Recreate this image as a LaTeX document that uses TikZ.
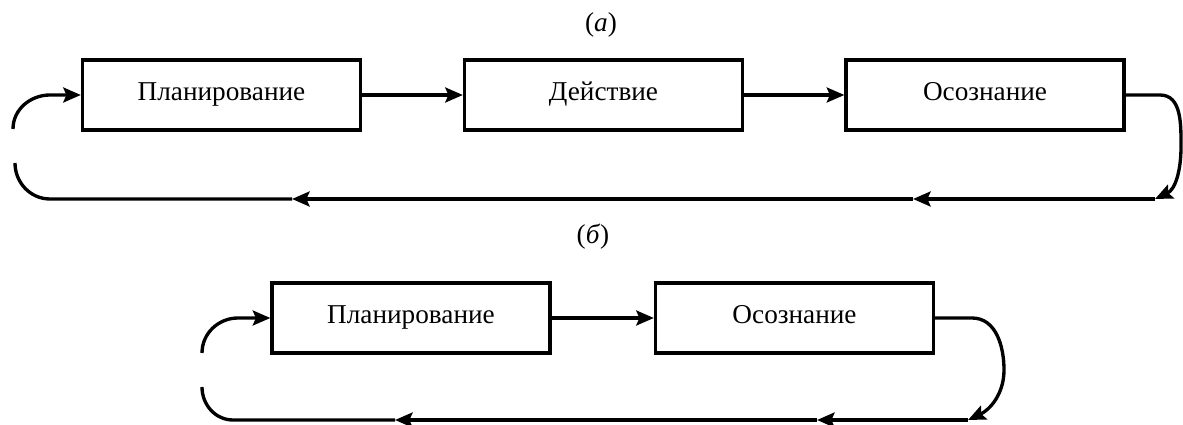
\documentclass[tikz,border=0pt]{standalone}
\usepackage{fontspec}
\setmainfont{Liberation Serif}
\usetikzlibrary{arrows.meta}

\begin{document}
\begin{tikzpicture}[x = 0.02cm, y = 0.02cm, font = \fontsize{15.5}{18}\selectfont]
	\tikzstyle{stageStyle}=[shape = rectangle, minimum width = 5.56cm, minimum height = 1.4cm, inner sep = 0pt, text height = 0.66em, text depth = 0pt, draw, line width = 1.9pt]
	\tikzstyle{flowStyle}=[line width = 1.9pt, -{Stealth[length = 10pt, width = 8.5pt, inset = 1.8pt]}]
	\tikzstyle{loopStyle}=[line width = 1.9pt]
	\useasboundingbox (0, 0) rectangle (1183, -425);
	% (a)
	\node (capA) at (601, -25) {(\textit{a})};
	\node[stageStyle] (planA) at (221.5, -95) {Планирование};
	\node[stageStyle] (actA) at (603.5, -95) {Действие};
	\node[stageStyle] (awareA) at (985, -95) {Осознание};
	\coordinate (upA) at (13, -129);
	\coordinate (inA) at (50, -95);
	\coordinate (lowA) at (15, -163);
	\coordinate (outA) at (1160, -95);
	\coordinate (sideA) at (1181, -147);
	\coordinate (retA) at (1155, -199);
	\coordinate (midA1) at (913, -199);
	\coordinate (midA2) at (292, -199);
	\coordinate (endA) at (50, -199);
	\draw[flowStyle] (upA) to[out = 90, in = 180] (inA) -- (planA);
	\draw[flowStyle] (planA) -- (actA);
	\draw[flowStyle] (actA) -- (awareA);
	\draw[flowStyle] (awareA) -- (outA) to[out = 0, in = 90] (sideA) to[out = -90, in = 25] (retA);
	\draw[flowStyle] (retA) -- (midA1);
	\draw[flowStyle] (midA1) -- (midA2);
	\draw[loopStyle] (midA2) -- (endA) to[out = 180, in = -90] (lowA);
	% (b)
	\node (capB) at (593, -237) {(\textit{б})};
	\node[stageStyle] (planB) at (411, -318) {Планирование};
	\node[stageStyle] (awareB) at (794.5, -318) {Осознание};
	\coordinate (upB) at (202, -353);
	\coordinate (inB) at (238, -318);
	\coordinate (lowB) at (202, -387);
	\coordinate (outB) at (972, -318);
	\coordinate (sideB) at (1004, -370);
	\coordinate (retB) at (968, -420);
	\coordinate (midB1) at (817, -420);
	\coordinate (midB2) at (395, -420);
	\coordinate (endB) at (233, -420);
	\draw[flowStyle] (upB) to[out = 90, in = 180] (inB) -- (planB);
	\draw[flowStyle] (planB) -- (awareB);
	\draw[flowStyle] (awareB) -- (outB) to[out = 0, in = 90] (sideB) to[out = -90, in = 25] (retB);
	\draw[flowStyle] (retB) -- (midB1);
	\draw[flowStyle] (midB1) -- (midB2);
	\draw[loopStyle] (midB2) -- (endB) to[out = 180, in = -90] (lowB);
\end{tikzpicture}
\end{document}
